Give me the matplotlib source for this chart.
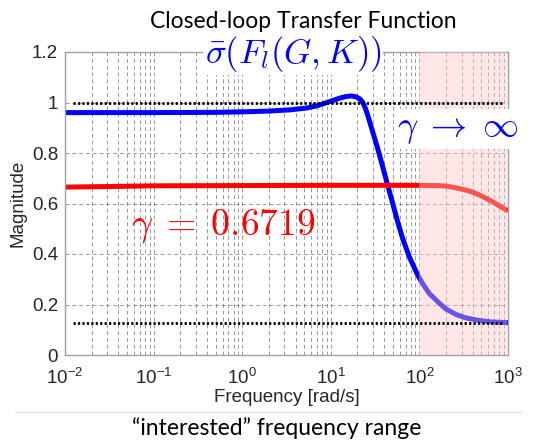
import matplotlib
matplotlib.use("Agg")
import matplotlib.pyplot as plt
from matplotlib.lines import Line2D
from matplotlib.ticker import LogLocator, FixedLocator

# values
blue_freq = [0.01, 0.1, 0.5, 1, 2, 3.5, 5.3, 7, 9.6, 12.5, 14.5, 16.9, 19.5, 21.3, 22.9,
             24.5, 26.1, 29.7, 33.8, 38.5, 43.8, 49.9, 56.8, 64.6, 76.9, 95.5, 110, 129,
             168, 200, 260, 335, 450, 650, 1000]
blue_mag = [0.960, 0.960, 0.961, 0.963, 0.966, 0.971, 0.978, 0.987, 1.003, 1.017, 1.023,
            1.026, 1.022, 1.014, 1.001, 0.978, 0.950, 0.884, 0.818, 0.746, 0.673, 0.601,
            0.528, 0.462, 0.389, 0.317, 0.280, 0.244, 0.205, 0.182, 0.160, 0.147, 0.138,
            0.131, 0.128]

red_freq = [0.01, 0.03, 0.1, 1, 10, 100, 160, 200, 260, 335, 400, 473, 570, 670, 800, 1000]
red_mag = [0.665, 0.667, 0.670, 0.671, 0.672, 0.672, 0.671, 0.669, 0.662, 0.653, 0.645,
           0.634, 0.620, 0.607, 0.590, 0.571]

bound_levels = [1.0, 0.125]
bound_range = [0.0122, 860]
shade_range = [100, 970]

yticks = [0, 0.2, 0.4, 0.6, 0.8, 1.0, 1.2]
ytick_labels = ["0", "0.2", "0.4", "0.6", "0.8", "1", "1.2"]

plt.rcParams['mathtext.fontset'] = 'cm'

fig = plt.figure(figsize=(5.34, 4.41), dpi=100)
ax = fig.add_axes([65 / 534, 1 - 355 / 441, 443 / 534, 303 / 441])

ax.plot(blue_freq, blue_mag, color='#0000ff', lw=3.6, zorder=2, solid_capstyle='butt')
ax.plot(red_freq, red_mag, color='#ff0000', lw=3.6, zorder=2, solid_capstyle='butt')

# pink overlay for the "interested" range, drawn over the curves
ax.axvspan(shade_range[0], shade_range[1], color='#ffc8c8', alpha=0.42, lw=0, zorder=3)

for lev in bound_levels:
    ax.plot(bound_range, [lev, lev], color='black', lw=2.0, ls=(0, (0.8, 0.8)), zorder=4)

ax.set_xscale('log')
ax.set_xlim(1e-2, 1e3)
ax.set_ylim(0, 1.2)
ax.yaxis.set_major_locator(FixedLocator(yticks))
ax.set_yticklabels(ytick_labels)
ax.xaxis.set_major_locator(LogLocator(base=10, numticks=10))
ax.xaxis.set_minor_locator(LogLocator(base=10, subs=range(2, 10), numticks=20))

ax.grid(True, which='major', axis='both', color='#555555', lw=0.7, ls=(0, (4, 3)), alpha=0.6)
ax.grid(True, which='minor', axis='x', color='#555555', lw=0.7, ls=(0, (4, 3)), alpha=0.6)
ax.set_axisbelow(True)

for s in ax.spines.values():
    s.set_color('#a0a0a0')
    s.set_linewidth(1.0)
ax.tick_params(which='both', length=0, labelsize=13.5, labelcolor='#262626')
ax.tick_params(axis='x', pad=9)
ax.tick_params(axis='y', pad=5)
for lab in ax.get_xticklabels() + ax.get_yticklabels():
    lab.set_family('Liberation Sans')

ax.set_xlabel('Frequency [rad/s]', fontsize=13.5, color='#262626', family='Liberation Sans',
              labelpad=1)
ax.set_ylabel('Magnitude', fontsize=13.5, color='#262626', family='Liberation Sans',
              labelpad=4)

fig.text(303 / 534, 1 - 22 / 441, 'Closed-loop Transfer Function', fontsize=16.5,
         family='Lato', ha='center', va='center', color='black')

ax.text(293 / 534, 1 - 54 / 441, r'$\bar{\sigma}(F_l(G,K))$', transform=fig.transFigure,
        fontsize=25, color='#0000ff', ha='center', va='center', zorder=6,
        bbox=dict(facecolor='white', edgecolor='none', pad=1))
ax.text(458 / 534, 1 - 129 / 441, r'$\gamma\;\rightarrow\;\infty$', transform=fig.transFigure,
        fontsize=26, color='#0000ff', ha='center', va='center', zorder=6, clip_on=False,
        bbox=dict(facecolor='white', edgecolor='none', pad=2))
ax.text(223 / 534, 1 - 226 / 441, r'$\gamma\;=\;0.6719$', transform=fig.transFigure,
        fontsize=27, color='#ff0000', ha='center', va='center', zorder=6)

fig.add_artist(Line2D([15 / 534, 521 / 534], [1 - 411.7 / 441] * 2, color='#e0e0e0', lw=0.8))
fig.text(277 / 534, 1 - 428 / 441, '\u201cinterested\u201d frequency range', fontsize=16.5,
         family='Lato', ha='center', va='center', color='black')

fig.savefig('out.png', dpi=100, facecolor='white')
